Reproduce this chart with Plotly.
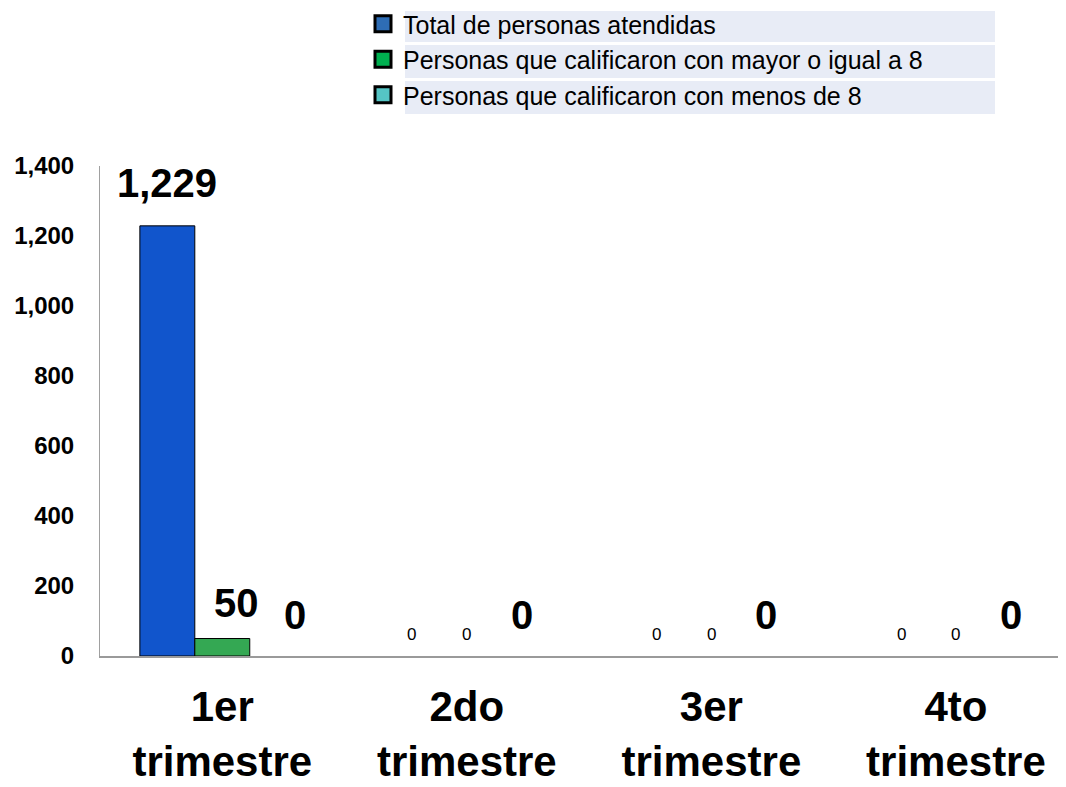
import plotly.graph_objects as go

# ---- data ----
categories = ["1er<br>trimestre", "2do<br>trimestre", "3er<br>trimestre", "4to<br>trimestre"]
series_names = [
    "Total de personas atendidas",
    "Personas que calificaron con mayor o igual a 8",
    "Personas que calificaron con menos de 8",
]
total_atendidas = [1229, 0, 0, 0]
mayor_igual_8 = [50, 0, 0, 0]
menos_8 = [0, 0, 0, 0]
y_ticks = [0, 200, 400, 600, 800, 1000, 1200, 1400]

# ---- styles ----
series_values = [total_atendidas, mayor_igual_8, menos_8]
bar_colors = ["#1155CC", "#34A853", "#4FC3C3"]
legend_colors = ["#2E6DB5", "#00B050", "#55C5C5"]
big_label = [[True, False, False, False],
             [True, False, False, False],
             [True, True, True, True]]
label_xshift = [[0, 0, 0, 0], [14, 0, 0, 0], [18, 0, 0, 0]]
big_yshift = [19, 12, 17]
FONT = "Liberation Sans"
# page adds an 8px body margin, so the figure is 8px smaller
W, H = 1058, 779
L, R, T, B = 92, 0, 158, 131
BARGAP = 0.326
bar_w = (1 - BARGAP) / 3

fig = go.Figure()
for i, vals in enumerate(series_values):
    fig.add_trace(go.Bar(
        x=categories, y=vals, name=series_names[i],
        marker=dict(color=bar_colors[i],
                    line=dict(color="black", width=[1 if v > 0 else 0 for v in vals])),
        showlegend=False,
    ))
# legend entries
for i, name in enumerate(series_names):
    fig.add_trace(go.Scatter(
        x=[None], y=[None], mode="markers", name=name, legendgroup=f"g{i}",
        marker=dict(symbol="square", size=16, color=legend_colors[i],
                    line=dict(color="black", width=3)),
    ))

# value labels
annotations = []
for i, vals in enumerate(series_values):
    for j, v in enumerate(vals):
        big = big_label[i][j]
        annotations.append(dict(
            x=j + (i - 1) * bar_w, y=v, xref="x", yref="y",
            text=f"<b>{v:,}</b>" if big else f"{v:,}",
            showarrow=False, xanchor="center", yanchor="bottom",
            xshift=label_xshift[i][j], yshift=big_yshift[i] if big else 10,
            font=dict(family=FONT, size=40 if big else 17, color="black"),
        ))

# legend background bands
plot_h = H - T - B
def py(px):
    return (H - B - px) / plot_h
def pxx(px):
    return (px - L) / (W - L - R)
shapes = []
for top, bot in [(3, 34), (37, 70), (73, 106)]:
    shapes.append(dict(type="rect", xref="paper", yref="paper",
                       x0=pxx(397), x1=pxx(987), y0=py(bot), y1=py(top),
                       fillcolor="#E8ECF6", line=dict(width=0), layer="below"))

fig.update_layout(
    width=W, height=H,
    margin=dict(l=L, r=R, t=T, b=B, autoexpand=False),
    paper_bgcolor="white", plot_bgcolor="white",
    barmode="group", bargap=BARGAP, bargroupgap=0,
    font=dict(family=FONT, color="black"),
    annotations=annotations, shapes=shapes,
    legend=dict(x=pxx(355), y=py(-7),
                xanchor="left", yanchor="top", bgcolor="rgba(0,0,0,0)",
                font=dict(family=FONT, size=25, color="black"),
                tracegroupgap=0, itemsizing="trace"),
    xaxis=dict(range=[-0.5, 3.45], showline=True, linecolor="#9A9A9A", linewidth=2,
               showgrid=False, ticks="", ticklabelstandoff=13, tickangle=0,
               tickfont=dict(family=FONT, size=42, color="black", weight="bold")),
    yaxis=dict(range=[0, 1400], tickvals=y_ticks, tickformat=",",
               showline=True, linecolor="#A0A0A0", linewidth=1, showgrid=False,
               zeroline=False, ticks="", ticklabelstandoff=20,
               tickfont=dict(family=FONT, size=24, color="black", weight="bold")),
)

fig.write_html("out.html")
